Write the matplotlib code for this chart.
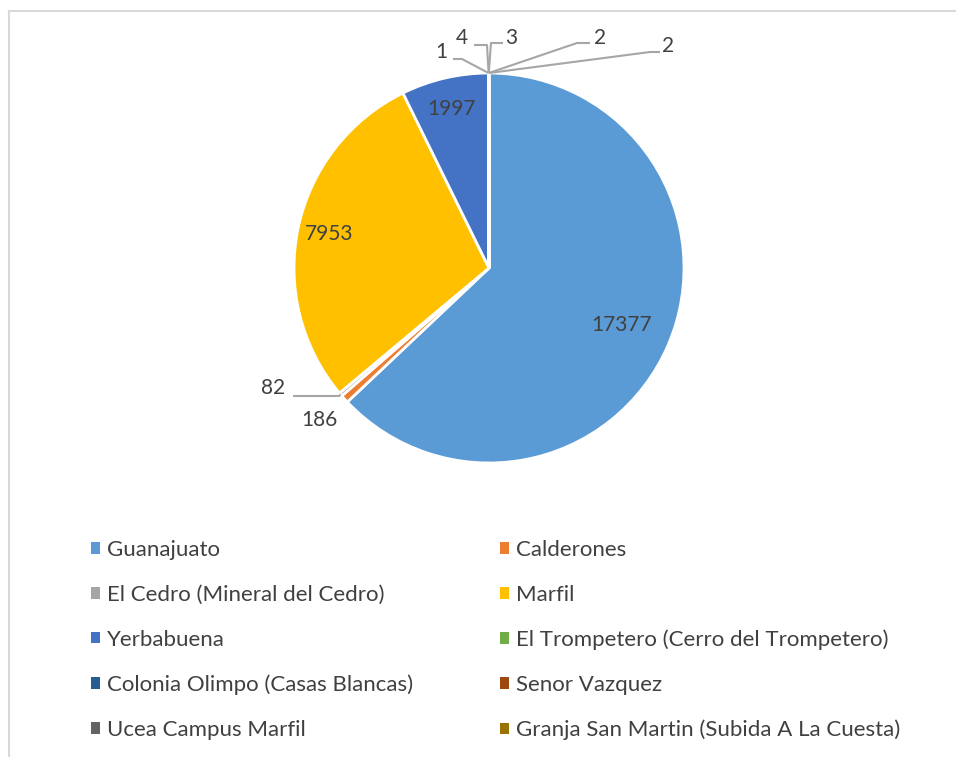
import numpy as np
import matplotlib.pyplot as plt
from matplotlib.patches import Patch
from matplotlib.lines import Line2D

plt.rcParams['font.family'] = ['Lato', 'DejaVu Sans']

# datos
localidades = ['Guanajuato', 'Calderones', 'El Cedro (Mineral del Cedro)', 'Marfil',
               'Yerbabuena', 'El Trompetero (Cerro del Trompetero)',
               'Colonia Olimpo (Casas Blancas)', 'Senor Vazquez',
               'Ucea Campus Marfil', 'Granja San Martin (Subida A La Cuesta)']
poblacion = [17377, 186, 82, 7953, 1997, 1, 4, 3, 2, 2]
colores = ['#5B9BD5', '#ED7D31', '#A5A5A5', '#FFC000', '#4472C4',
           '#70AD47', '#255E91', '#9E480E', '#636363', '#997300']

W, H = 956, 757
gris_texto = '#404040'
gris_linea = '#A6A6A6'

fig = plt.figure(figsize=(W / 100, H / 100), dpi=100)
ax = fig.add_axes([0, 0, 1, 1])
centro = (489, 489)
radio = 195
wedges, _ = ax.pie(poblacion, colors=colores, startangle=90, counterclock=False,
                   center=centro, radius=radio,
                   wedgeprops=dict(edgecolor='white', linewidth=2))
ax.set_xlim(0, W)
ax.set_ylim(0, H)
ax.set_aspect('equal')
ax.axis('off')


def punto(w, f):
    ang = np.deg2rad((w.theta1 + w.theta2) / 2)
    return centro[0] + f * radio * np.cos(ang), centro[1] + f * radio * np.sin(ang)


# etiquetas dentro
for i, f in [(0, 0.74), (3, 0.84), (4, 0.84)]:
    x, y = punto(wedges[i], f)
    ax.text(x, y, str(poblacion[i]), ha='center', va='center', fontsize=15, color=gris_texto)

# etiquetas fuera: (indice, posicion texto, linea guia)
fuera = [
    (1, (319, 337), None),
    (2, (273, 369), [(293, 361), (339, 361)]),
    (5, (441, 705), [(453, 698), (462, 698)]),
    (6, (462, 719), [(474, 712), (487, 712)]),
    (7, (511, 719), [(503, 714), (491, 714)]),
    (8, (600, 719), [(590, 714), (577, 714)]),
    (9, (668, 711), [(660, 705), (650, 705)]),
]
for i, pos, guia in fuera:
    ax.text(pos[0], pos[1], str(poblacion[i]), ha='center', va='center', fontsize=15,
            color=gris_texto)
    if guia is not None:
        xa, ya = punto(wedges[i], 1.0)
        xs = [p[0] for p in guia] + [xa]
        ys = [p[1] for p in guia] + [ya]
        ax.plot(xs, ys, color=gris_linea, lw=1.5, solid_capstyle='butt')

# leyenda en dos columnas
handles = [Patch(facecolor=c, edgecolor='none') for c in colores]
for col, x0 in [(0, 91), (1, 500)]:
    idx = list(range(col, len(localidades), 2))
    fig.legend([handles[k] for k in idx], [localidades[k] for k in idx],
               loc='upper left', bbox_to_anchor=(x0 / W, 1 - 540 / H),
               frameon=False, fontsize=16, labelcolor=gris_texto,
               handlelength=0.42, handleheight=0.42, handletextpad=0.3,
               labelspacing=1.115, borderpad=0, borderaxespad=0)

# marco
fig.add_artist(Line2D([8.5 / W, 1], [1 - 10.5 / H, 1 - 10.5 / H], transform=fig.transFigure,
                      color='#D9D9D9', lw=1.5))
fig.add_artist(Line2D([8.5 / W, 8.5 / W], [0, 1 - 10.5 / H], transform=fig.transFigure,
                      color='#D9D9D9', lw=1.5))

fig.savefig('out.png', dpi=100)
